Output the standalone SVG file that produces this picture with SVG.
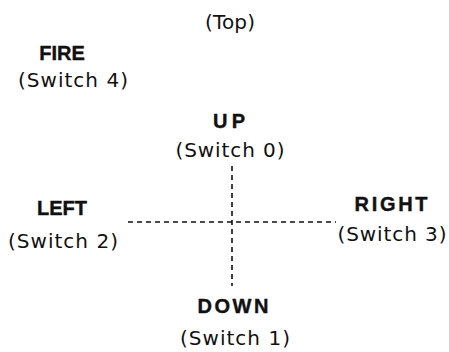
<svg xmlns="http://www.w3.org/2000/svg" width="449" height="352" viewBox="0 0 449 352">
<style>
text{font-family:"DejaVu Sans","Liberation Sans",sans-serif;fill:#111;text-anchor:middle}
.b{font-family:"Liberation Sans",Arial,sans-serif;font-weight:bold;font-size:20px;stroke:#111;stroke-width:0.4}
.n{font-size:20px}
.d{stroke:#111;stroke-width:1.6;stroke-dasharray:5 4;fill:none}
</style>
<rect width="449" height="352" fill="#fff"/>
<g id="connectors">
<line class="d" x1="232" y1="166" x2="232" y2="286"/>
<line class="d" x1="128" y1="222" x2="336" y2="222"/>
</g>
<g id="top"><text class="n" x="230" y="29" textLength="50" lengthAdjust="spacing">(Top)</text></g>
<g id="fire"><text class="b" x="62" y="60">FIRE</text><text class="n" x="73" y="87" textLength="110" lengthAdjust="spacing">(Switch 4)</text></g>
<g id="up"><text class="b" x="229" y="128" textLength="32" lengthAdjust="spacing">UP</text><text class="n" x="230" y="157" textLength="109" lengthAdjust="spacing">(Switch 0)</text></g>
<g id="left"><text class="b" x="62" y="215">LEFT</text><text class="n" x="63" y="248" textLength="110" lengthAdjust="spacing">(Switch 2)</text></g>
<g id="right"><text class="b" x="391" y="211" textLength="73" lengthAdjust="spacing">RIGHT</text><text class="n" x="392" y="241" textLength="109" lengthAdjust="spacing">(Switch 3)</text></g>
<g id="down"><text class="b" x="233" y="313" textLength="71" lengthAdjust="spacing">DOWN</text><text class="n" x="235" y="345" textLength="110" lengthAdjust="spacing">(Switch 1)</text></g>
</svg>
